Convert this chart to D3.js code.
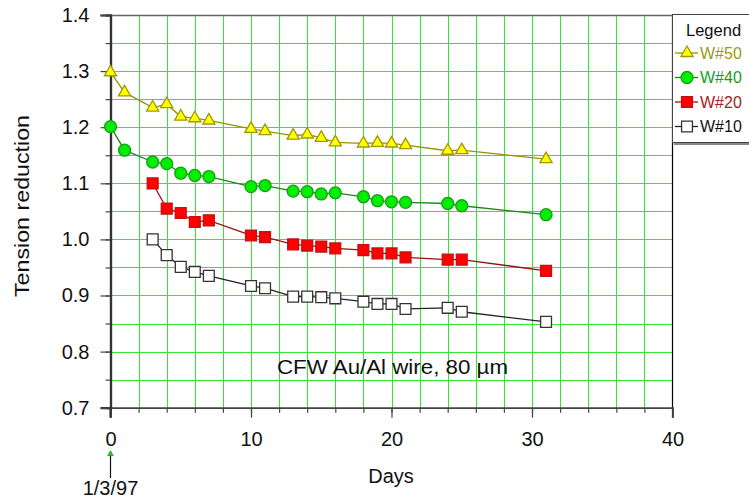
<!DOCTYPE html>
<html>
<head>
<meta charset="utf-8">
<script src="https://cdn.jsdelivr.net/npm/d3@7"></script>
<style>
  html, body { margin: 0; padding: 0; background: #fff; }
  svg { display: block; font-family: "Liberation Sans", Arial, sans-serif; }
</style>
</head>
<body>
<svg id="chart" width="749" height="500"></svg>
<script>
// ---- data ----
const daysA = [0, 1, 3, 4, 5, 6, 7, 10, 11, 13, 14, 15, 16, 18, 19, 20, 21, 24, 25, 31];
const daysB = [3, 4, 5, 6, 7, 10, 11, 13, 14, 15, 16, 18, 19, 20, 21, 24, 25, 31];
const w50 = [1.298, 1.262, 1.235, 1.241, 1.219, 1.216, 1.212, 1.197, 1.193, 1.185, 1.187, 1.181, 1.173, 1.171, 1.172, 1.171, 1.168, 1.158, 1.159, 1.143];
const w40 = [1.201, 1.159, 1.138, 1.135, 1.118, 1.114, 1.112, 1.094, 1.096, 1.086, 1.085, 1.081, 1.083, 1.076, 1.069, 1.067, 1.066, 1.064, 1.060, 1.044];
const w20 = [1.100, 1.055, 1.047, 1.031, 1.034, 1.007, 1.004, 0.991, 0.989, 0.987, 0.984, 0.981, 0.975, 0.975, 0.968, 0.964, 0.964, 0.944];
const w10 = [1.000, 0.972, 0.951, 0.942, 0.935, 0.917, 0.913, 0.898, 0.898, 0.897, 0.895, 0.889, 0.885, 0.885, 0.876, 0.878, 0.871, 0.853];
const seriesNames = ["W#50", "W#40", "W#20", "W#10"];
const xTicks = [0, 10, 20, 30, 40];
const yTicks = [0.7, 0.8, 0.9, 1.0, 1.1, 1.2, 1.3, 1.4];
const xTitle = "Days";
const yTitle = "Tension reduction";
const note = "CFW Au/Al wire, 80 \u00b5m";
const startLabel = "1/3/97";

// ---- styles ----
const styles = [
  { days: daysA, vals: w50, shape: d3.symbolTriangle, size: 64, fill: "#ffff00", stroke: "#a09800", line: "#9a9000", text: "#9a9a10" },
  { days: daysA, vals: w40, shape: d3.symbolCircle, size: 113, fill: "#00ee00", stroke: "#13a013", line: "#128c12", text: "#16a016" },
  { days: daysB, vals: w20, shape: d3.symbolSquare, size: 118, fill: "#ff0000", stroke: "#c41010", line: "#991010", text: "#a82020" },
  { days: daysB, vals: w10, shape: d3.symbolSquare, size: 118, fill: "#ffffff", stroke: "#333333", line: "#222222", text: "#111111" }
];

const svg = d3.select("#chart");
const L = 110.5, R = 672.5, T = 15, B = 407.7;
const x = d3.scaleLinear().domain([0, 40]).range([L, R]);
const y = d3.scaleLinear().domain([0.7, 1.4]).range([B, T]);
const axisCol = "#444";
const gridCol = "#33e833";

// grid
const g = svg.append("g");
g.selectAll("line.vg").data(d3.range(2, 40, 2)).join("line")
  .attr("x1", d => Math.round(x(d)) + 0.5).attr("x2", d => Math.round(x(d)) + 0.5)
  .attr("y1", T).attr("y2", B).attr("stroke", gridCol).attr("stroke-width", 1);
g.selectAll("line.hg").data(d3.range(0.75, 1.4, 0.05)).join("line")
  .attr("x1", L).attr("x2", R)
  .attr("y1", d => Math.round(y(d)) + 0.5).attr("y2", d => Math.round(y(d)) + 0.5)
  .attr("stroke", gridCol).attr("stroke-width", 1);

// frame: top gray, right black
svg.append("line").attr("x1", L - 10).attr("x2", R).attr("y1", T + 0.5).attr("y2", T + 0.5).attr("stroke", "#666").attr("stroke-width", 1.5);
svg.append("line").attr("x1", R).attr("x2", R).attr("y1", T).attr("y2", B + 10).attr("stroke", "#000").attr("stroke-width", 1.2);

// x axis
const xAxisMinor = d3.axisBottom(x).tickValues(d3.range(0, 41, 2)).tickSize(5).tickFormat("");
const xAxis = d3.axisBottom(x).tickValues(xTicks).tickSize(10).tickPadding(14).tickFormat(d3.format("d"));
const gxm = svg.append("g").attr("transform", `translate(0,${B})`).call(xAxisMinor);
const gx = svg.append("g").attr("transform", `translate(0,${B})`).call(xAxis);
[gxm, gx].forEach(a => { a.select(".domain").attr("stroke", axisCol).attr("stroke-width", 1.5); a.selectAll(".tick line").attr("stroke", axisCol).attr("stroke-width", 1.2); });
gx.selectAll(".tick text").attr("font-size", 20).attr("fill", "#111").attr("font-family", "Liberation Sans, Arial");

// y axis
const yAxisMinor = d3.axisLeft(y).tickValues(d3.range(0.7, 1.41, 0.05)).tickSize(5).tickFormat("");
const yAxis = d3.axisLeft(y).tickValues(yTicks).tickSize(10).tickPadding(11).tickFormat(d3.format(".1f"));
const gym = svg.append("g").attr("transform", `translate(${L},0)`).call(yAxisMinor);
const gy = svg.append("g").attr("transform", `translate(${L},0)`).call(yAxis);
[gym, gy].forEach(a => { a.select(".domain").attr("stroke", "#333").attr("stroke-width", 2.2); a.selectAll(".tick line").attr("stroke", axisCol).attr("stroke-width", 1.2); });
gy.selectAll(".tick text").attr("font-size", 20).attr("fill", "#111").attr("font-family", "Liberation Sans, Arial");
// extend y-axis line down to tick length
svg.append("line").attr("x1", L).attr("x2", L).attr("y1", B).attr("y2", B + 10).attr("stroke", "#333").attr("stroke-width", 2.2);

// titles
svg.append("text").attr("x", 391).attr("y", 483).attr("text-anchor", "middle")
  .attr("font-size", 20).attr("fill", "#111").text(xTitle);
svg.append("text").attr("transform", "translate(29,206) rotate(-90)").attr("text-anchor", "middle")
  .attr("font-size", 21).attr("textLength", 182).attr("lengthAdjust", "spacingAndGlyphs")
  .attr("fill", "#111").text(yTitle);

// annotation
svg.append("text").attr("x", 277).attr("y", 374).attr("font-size", 20)
  .attr("textLength", 231).attr("lengthAdjust", "spacingAndGlyphs")
  .attr("fill", "#111").text(note);

// start date marker
svg.append("line").attr("x1", x(0)).attr("x2", x(0)).attr("y1", 454).attr("y2", 478).attr("stroke", "#111").attr("stroke-width", 1.2);
svg.append("path").attr("d", d3.symbol(d3.symbolTriangle, 14)()).attr("transform", `translate(${x(0)},454)`)
  .attr("fill", "#22cc22").attr("stroke", "#118811").attr("stroke-width", 0.6);
svg.append("text").attr("x", x(0)).attr("y", 495).attr("text-anchor", "middle").attr("font-size", 20).attr("fill", "#111").text(startLabel);

// series (draw back to front: W#10 first)
styles.slice().reverse().forEach(s => {
  const pts = s.days.map((d, i) => [d, s.vals[i]]);
  svg.append("path").datum(pts)
    .attr("fill", "none").attr("stroke", s.line).attr("stroke-width", 1.3)
    .attr("d", d3.line().x(d => x(d[0])).y(d => y(d[1])));
  svg.append("g").selectAll("path").data(pts).join("path")
    .attr("d", d3.symbol(s.shape, s.size)())
    .attr("transform", d => `translate(${x(d[0])},${y(d[1])})`)
    .attr("fill", s.fill).attr("stroke", s.stroke).attr("stroke-width", 1.3);
});

// legend
const lg = svg.append("g");
lg.append("rect").attr("x", 674).attr("y", 16).attr("width", 80).attr("height", 129).attr("fill", "#888");
lg.append("rect").attr("x", 672.5).attr("y", 14.5).attr("width", 80).attr("height", 128).attr("fill", "#fff").attr("stroke", "#444").attr("stroke-width", 1);
lg.append("text").attr("x", 686).attr("y", 36).attr("font-size", 16.5).attr("fill", "#111").text("Legend");
const ly = [53, 77.5, 102, 126.5];
styles.forEach((s, i) => {
  lg.append("line").attr("x1", 675).attr("x2", 698).attr("y1", ly[i]).attr("y2", ly[i]).attr("stroke", s.line).attr("stroke-width", 1.3);
  lg.append("path").attr("d", d3.symbol(s.shape, s.size)()).attr("transform", `translate(687,${ly[i]})`)
    .attr("fill", s.fill).attr("stroke", s.stroke).attr("stroke-width", 1.3);
  lg.append("text").attr("x", 700).attr("y", ly[i] + 5.5).attr("font-size", 16).attr("fill", s.text).text(seriesNames[i]);
});
</script>
</body>
</html>
